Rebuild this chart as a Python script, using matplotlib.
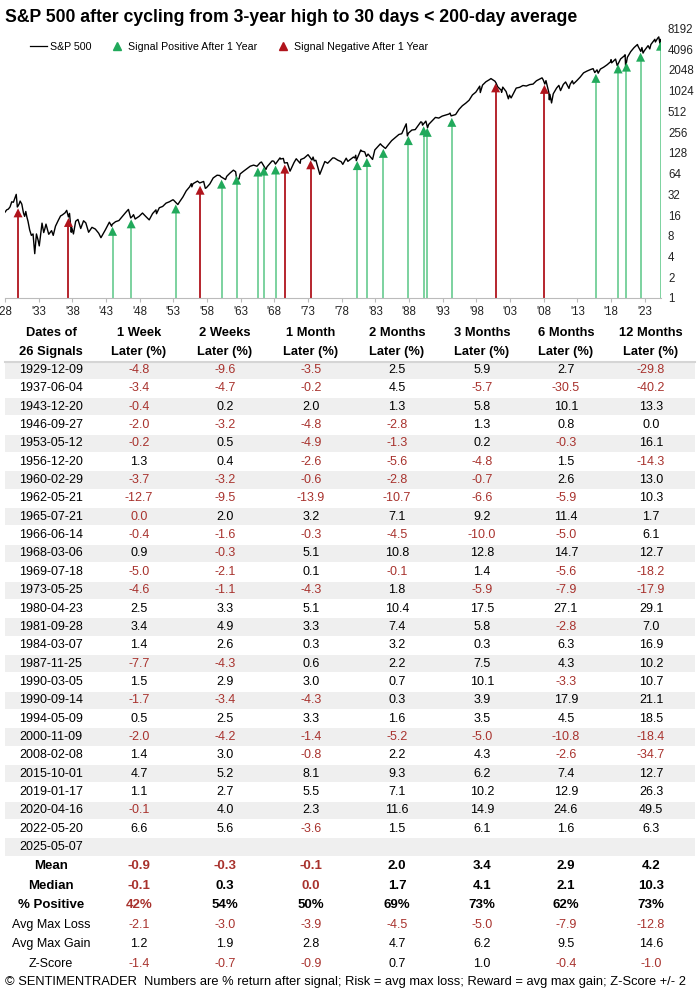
import numpy as np
import pandas as pd
import matplotlib
matplotlib.use("Agg")
import matplotlib.pyplot as plt
import matplotlib.dates as mdates
from matplotlib.lines import Line2D
from matplotlib.patches import Rectangle

plt.rcParams['font.family'] = ['Liberation Sans', 'DejaVu Sans']

# S&P 500 levels (approx.)
spx_dates = [
    "1928-01", "1928-04", "1928-07", "1928-10", "1929-01", "1929-04", "1929-07", "1929-09", "1929-11", "1929-12",
    "1930-02", "1930-04", "1930-07", "1930-10", "1930-12", "1931-02", "1931-04", "1931-06", "1931-09", "1931-12",
    "1932-03", "1932-06", "1932-09", "1932-12", "1933-02", "1933-07", "1933-10", "1933-12", "1934-02", "1934-07",
    "1934-12", "1935-03", "1935-07", "1935-12", "1936-04", "1936-07", "1936-12", "1937-03", "1937-06", "1937-08",
    "1937-11", "1937-12", "1938-03", "1938-07", "1938-11", "1939-04", "1939-09", "1939-12", "1940-01", "1940-06",
    "1940-12", "1941-06", "1941-12", "1942-04", "1942-12", "1943-07", "1943-11", "1943-12", "1944-06", "1944-12",
    "1945-06", "1945-12", "1946-05", "1946-09", "1946-12", "1947-02", "1947-05", "1947-12", "1948-06", "1948-12",
    "1949-06", "1949-12", "1950-06", "1950-07", "1950-12", "1951-06", "1951-12", "1952-06", "1952-12", "1953-01",
    "1953-09", "1953-12", "1954-06", "1954-12", "1955-06", "1955-09", "1955-10", "1955-12", "1956-08", "1956-12",
    "1957-07", "1957-10", "1957-12", "1958-06", "1958-12", "1959-07", "1959-12", "1960-01", "1960-10", "1960-12",
    "1961-06", "1961-12", "1962-04", "1962-06", "1962-10", "1962-12", "1963-06", "1963-12", "1964-06", "1964-12",
    "1965-06", "1965-12", "1966-02", "1966-10", "1966-12", "1967-09", "1967-12", "1968-03", "1968-11", "1968-12",
    "1969-05", "1969-07", "1969-12", "1970-05", "1970-12", "1971-04", "1971-11", "1971-12", "1972-06", "1972-12",
    "1973-01", "1973-08", "1973-10", "1973-12", "1974-03", "1974-10", "1974-12", "1975-07", "1975-12", "1976-09",
    "1976-12", "1977-06", "1977-12", "1978-03", "1978-09", "1978-12", "1979-10", "1979-12", "1980-02", "1980-03",
    "1980-11", "1980-12", "1981-06", "1981-09", "1981-12", "1982-08", "1982-12", "1983-10", "1983-12", "1984-07",
    "1984-12", "1985-06", "1985-12", "1986-07", "1986-12", "1987-08", "1987-10", "1987-12", "1988-06", "1988-12",
    "1989-10", "1989-12", "1990-01", "1990-07", "1990-10", "1990-12", "1991-06", "1991-12", "1992-06", "1992-12",
    "1993-06", "1993-12", "1994-02", "1994-04", "1994-12", "1995-06", "1995-12", "1996-06", "1996-12", "1997-06",
    "1997-12", "1998-07", "1998-08", "1998-12", "1999-06", "1999-12", "2000-03", "2000-10", "2000-12", "2001-03",
    "2001-09", "2001-10", "2001-12", "2002-06", "2002-10", "2002-12", "2003-03", "2003-12", "2004-06", "2004-12",
    "2005-06", "2005-12", "2006-06", "2006-12", "2007-10", "2007-12", "2008-03", "2008-05", "2008-10", "2008-11",
    "2008-12", "2009-03", "2009-06", "2009-12", "2010-04", "2010-07", "2010-12", "2011-04", "2011-10", "2011-12",
    "2012-04", "2012-06", "2012-12", "2013-06", "2013-12", "2014-06", "2014-12", "2015-05", "2015-08", "2015-12",
    "2016-02", "2016-06", "2016-12", "2017-06", "2017-12", "2018-01", "2018-02", "2018-09", "2018-12", "2019-06",
    "2019-12", "2020-02", "2020-03", "2020-06", "2020-12", "2021-06", "2021-12", "2022-01", "2022-06", "2022-08",
    "2022-10", "2022-12", "2023-07", "2023-10", "2023-12", "2024-07", "2024-08", "2024-12", "2025-02", "2025-04",
    "2025-05",
]
spx_values = [
    17.6, 19.0, 19.5, 21.0, 24.9, 24.5, 28.5, 31.9, 20.9, 21.5,
    23.0, 25.5, 23.0, 17.0, 15.3, 18.0, 15.0, 13.0, 9.7, 8.1,
    8.5, 4.4, 8.5, 6.9, 5.7, 12.2, 8.9, 10.1, 11.8, 8.4,
    9.5, 8.1, 11.0, 13.4, 15.5, 16.0, 17.2, 18.7, 15.0, 16.9,
    9.0, 10.5, 8.5, 13.0, 13.8, 10.2, 13.2, 12.5, 12.3, 9.0,
    10.6, 10.0, 8.7, 7.5, 9.8, 12.6, 11.0, 11.7, 12.8, 13.3,
    15.2, 17.4, 19.3, 14.5, 15.3, 16.2, 14.0, 15.3, 17.1, 15.2,
    13.6, 16.8, 19.0, 16.7, 20.4, 21.3, 23.8, 24.9, 26.6, 26.5,
    22.7, 24.8, 29.2, 35.9, 41.0, 45.6, 41.0, 45.5, 49.7, 46.7,
    49.1, 39.0, 39.9, 45.2, 55.2, 60.5, 59.9, 58.0, 52.3, 58.1,
    65.0, 71.6, 68.0, 52.3, 53.5, 63.1, 69.0, 75.0, 81.7, 84.8,
    81.6, 92.4, 94.0, 73.2, 80.3, 97.6, 96.5, 87.7, 108.0, 103.9,
    106.0, 91.0, 92.0, 69.3, 92.2, 104.8, 90.0, 102.1, 107.0, 118.1,
    120.2, 100.5, 111.0, 97.6, 99.7, 62.3, 68.6, 95.6, 90.2, 107.8,
    107.5, 100.0, 95.1, 86.9, 106.9, 96.1, 111.0, 107.9, 118.0, 98.2,
    140.5, 135.8, 132.0, 112.8, 122.6, 102.4, 140.6, 172.7, 164.9, 147.8,
    167.2, 191.9, 211.3, 236.0, 242.2, 336.8, 224.8, 247.1, 273.5, 277.7,
    359.8, 353.4, 322.0, 368.9, 295.5, 330.2, 371.0, 417.1, 408.0, 435.7,
    451.0, 466.4, 482.0, 438.9, 459.3, 544.8, 615.9, 670.6, 740.7, 885.0,
    970.4, 1186.0, 957.0, 1229.0, 1372.0, 1469.0, 1527.0, 1400.0, 1320.0, 1160.0,
    1040.0, 965.0, 1148.0, 990.0, 776.8, 879.8, 800.0, 1111.9, 1140.0, 1211.9,
    1191.0, 1248.3, 1270.0, 1418.3, 1565.0, 1468.4, 1273.0, 1426.0, 968.0, 752.0,
    903.3, 676.5, 919.0, 1115.1, 1217.0, 1022.0, 1257.6, 1363.0, 1099.0, 1257.6,
    1419.0, 1278.0, 1426.2, 1606.0, 1848.4, 1960.0, 2058.9, 2130.0, 1867.0, 2043.9,
    1829.0, 2098.0, 2238.8, 2423.0, 2673.6, 2872.9, 2581.0, 2930.8, 2351.1, 2941.8,
    3230.8, 3386.2, 2237.4, 3100.0, 3756.1, 4297.5, 4766.2, 4515.0, 3785.0, 4305.0,
    3577.0, 3839.5, 4588.0, 4117.0, 4769.8, 5667.0, 5186.0, 5881.6, 6144.0, 4982.8,
    5631.0,
]

signal_dates = [
    "1929-12-09", "1937-06-04", "1943-12-20", "1946-09-27", "1953-05-12", "1956-12-20", "1960-02-29",
    "1962-05-21", "1965-07-21", "1966-06-14", "1968-03-06", "1969-07-18", "1973-05-25", "1980-04-23",
    "1981-09-28", "1984-03-07", "1987-11-25", "1990-03-05", "1990-09-14", "1994-05-09", "2000-11-09",
    "2008-02-08", "2015-10-01", "2019-01-17", "2020-04-16", "2022-05-20", "2025-05-07",
]
signal_prices = [
    21.5, 15.6, 11.6, 14.9, 24.5, 45.8, 56.1, 64.0, 84.0, 86.7, 90.0, 92.7, 107.1, 104.3,
    115.9, 157.0, 240.3, 333.7, 316.8, 442.3, 1400.0, 1331.0, 1923.0, 2635.0, 2799.0, 3901.0, 5631.0,
]

columns = ["Dates of\n26 Signals", "1 Week\nLater (%)", "2 Weeks\nLater (%)", "1 Month\nLater (%)",
           "2 Months\nLater (%)", "3 Months\nLater (%)", "6 Months\nLater (%)", "12 Months\nLater (%)"]

wk1 = [-4.8, -3.4, -0.4, -2.0, -0.2, 1.3, -3.7, -12.7, -0.0, -0.4, 0.9, -5.0, -4.6,
       2.5, 3.4, 1.4, -7.7, 1.5, -1.7, 0.5, -2.0, 1.4, 4.7, 1.1, -0.1, 6.6]
wk2 = [-9.6, -4.7, 0.2, -3.2, 0.5, 0.4, -3.2, -9.5, 2.0, -1.6, -0.3, -2.1, -1.1,
       3.3, 4.9, 2.6, -4.3, 2.9, -3.4, 2.5, -4.2, 3.0, 5.2, 2.7, 4.0, 5.6]
mo1 = [-3.5, -0.2, 2.0, -4.8, -4.9, -2.6, -0.6, -13.9, 3.2, -0.3, 5.1, 0.1, -4.3,
       5.1, 3.3, 0.3, 0.6, 3.0, -4.3, 3.3, -1.4, -0.8, 8.1, 5.5, 2.3, -3.6]
mo2 = [2.5, 4.5, 1.3, -2.8, -1.3, -5.6, -2.8, -10.7, 7.1, -4.5, 10.8, -0.1, 1.8,
       10.4, 7.4, 3.2, 2.2, 0.7, 0.3, 1.6, -5.2, 2.2, 9.3, 7.1, 11.6, 1.5]
mo3 = [5.9, -5.7, 5.8, 1.3, 0.2, -4.8, -0.7, -6.6, 9.2, -10.0, 12.8, 1.4, -5.9,
       17.5, 5.8, 0.3, 7.5, 10.1, 3.9, 3.5, -5.0, 4.3, 6.2, 10.2, 14.9, 6.1]
mo6 = [2.7, -30.5, 10.1, 0.8, -0.3, 1.5, 2.6, -5.9, 11.4, -5.0, 14.7, -5.6, -7.9,
       27.1, -2.8, 6.3, 4.3, -3.3, 17.9, 4.5, -10.8, -2.6, 7.4, 12.9, 24.6, 1.6]
mo12 = [-29.8, -40.2, 13.3, 0.0, 16.1, -14.3, 13.0, 10.3, 1.7, 6.1, 12.7, -18.2, -17.9,
        29.1, 7.0, 16.9, 10.2, 10.7, 21.1, 18.5, -18.4, -34.7, 12.7, 26.3, 49.5, 6.3]

mean_row = [-0.9, -0.3, -0.1, 2.0, 3.4, 2.9, 4.2]
median_row = [-0.1, 0.3, -0.0, 1.7, 4.1, 2.1, 10.3]
pct_pos = [42, 54, 50, 69, 73, 62, 73]
max_loss = [-2.1, -3.0, -3.9, -4.5, -5.0, -7.9, -12.8]
max_gain = [1.2, 1.9, 2.8, 4.7, 6.2, 9.5, 14.6]
zscore = [-1.4, -0.7, -0.9, 0.7, 1.0, -0.4, -1.0]

RED = '#a8322d'
GREEN = '#21a95b'
GREEN_LINE = '#72cf97'
RED_MK = '#b0141c'
W, H = 697, 994


def fmt(v):
    s = f"{abs(v):.1f}"
    if v < 0 and s != "0.0":
        s = "-" + s
    return s


def col(v):
    return RED if np.signbit(v) else 'black'


fig = plt.figure(figsize=(W / 100, H / 100), dpi=100)

fig.text(5 / W, 1 - 17 / H, "S&P 500 after cycling from 3-year high to 30 days < 200-day average",
         fontsize=12.7, fontweight='bold', va='center', ha='left')

# ---- chart ----
ax = fig.add_axes([5 / W, (H - 298) / H, 656 / W, 278 / H])
x = pd.to_datetime(spx_dates)
ax.plot(x, spx_values, color='black', lw=1.0, zorder=2)

sx = pd.to_datetime(signal_dates)
sy = np.array(signal_prices) * 0.8
pos = [True if i >= len(mo12) else mo12[i] >= 0 for i in range(len(signal_dates))]
line_c = [GREEN_LINE if p else RED_MK for p in pos]
mark_c = [GREEN if p else RED_MK for p in pos]
ax.vlines(sx, 1, sy, colors=line_c, lw=1.3, zorder=1)
ax.scatter(sx, sy, marker='^', s=42, c=mark_c, zorder=3, linewidths=0)

ax.set_yscale('log', base=2)
ax.set_ylim(1, 2 ** 13.4)
ax.set_xlim(pd.Timestamp("1928-01-01"), pd.Timestamp("2025-06-01"))
yt = 2 ** np.arange(14)
ax.set_yticks(yt)
ax.set_yticklabels([str(int(v)) for v in yt])
ax.yaxis.set_minor_locator(matplotlib.ticker.NullLocator())
ax.yaxis.tick_right()
ax.tick_params(axis='y', length=0, pad=5, labelsize=8.3, labelcolor='#222222')
ax.set_xticks(pd.to_datetime([f"{y}-01-01" for y in range(1928, 2024, 5)]))
ax.xaxis.set_major_formatter(mdates.DateFormatter("'%y"))
ax.tick_params(axis='x', length=3, color='#bbbbbb', labelsize=8.3, labelcolor='#222222', pad=3)
for s in ['top', 'left', 'right']:
    ax.spines[s].set_visible(False)
ax.spines['bottom'].set_color('#bbbbbb')

handles = [Line2D([], [], color='black', lw=0.9),
           Line2D([], [], marker='^', ls='none', color=GREEN, markersize=6),
           Line2D([], [], marker='^', ls='none', color=RED_MK, markersize=6)]
fig.legend(handles, ["S&P 500", "Signal Positive After 1 Year", "Signal Negative After 1 Year"],
           loc='center left', bbox_to_anchor=(30 / W, 1 - 47 / H), ncol=3, frameon=False,
           borderpad=0, borderaxespad=0, fontsize=7.7, handlelength=1.6, handletextpad=0.25,
           columnspacing=1.6)

# ---- table ----
tx = fig.add_axes([0, 0, 1, 1], zorder=-1)
tx.set_xlim(0, W)
tx.set_ylim(H, 0)
tx.axis('off')

col_x = [51, 139, 225, 311, 397, 482, 566, 651]
for cx, name in zip(col_x, columns):
    l1, l2 = name.split("\n")
    tx.text(cx, 333, l1, ha='center', va='center', fontsize=9.3, fontweight='bold')
    tx.text(cx, 352, l2, ha='center', va='center', fontsize=9.3, fontweight='bold')
tx.plot([5, 695], [362, 362], color='#d5d5d5', lw=1.5)

y0, dy = 370, 18.35
data_cols = [wk1, wk2, mo1, mo2, mo3, mo6, mo12]
for i, d in enumerate(signal_dates):
    y = y0 + i * dy
    if i % 2 == 0:
        tx.add_patch(Rectangle((5, y - dy / 2 + 0.5), 690, dy - 1, color='#efefef', lw=0))
    tx.text(col_x[0], y, d, ha='center', va='center', fontsize=9)
    if i < len(wk1):
        for cx, c in zip(col_x[1:], data_cols):
            v = c[i]
            tx.text(cx, y, fmt(v), ha='center', va='center', fontsize=9, color=col(v))

sy0, sdy = 866, 19.6
summary = [("Mean", mean_row, True), ("Median", median_row, True), ("% Positive", pct_pos, True),
           ("Avg Max Loss", max_loss, False), ("Avg Max Gain", max_gain, False), ("Z-Score", zscore, False)]
for k, (lab, vals, bold) in enumerate(summary):
    y = sy0 + k * sdy
    fw = 'bold' if bold else 'normal'
    fs = 9.5 if bold else 9
    tx.text(col_x[0], y, lab, ha='center', va='center', fontsize=fs, fontweight=fw)
    for cx, v in zip(col_x[1:], vals):
        if lab == "% Positive":
            tx.text(cx, y, f"{v}%", ha='center', va='center', fontsize=fs, fontweight=fw,
                    color=RED if v < 50 else 'black')
        else:
            tx.text(cx, y, fmt(v), ha='center', va='center', fontsize=fs, fontweight=fw, color=col(v))

tx.text(5, 982, "\u00a9 SENTIMENTRADER  Numbers are % return after signal; Risk = avg max loss; "
        "Reward = avg max gain; Z-Score +/- 2", ha='left', va='center', fontsize=9.25)

fig.savefig("out.png", dpi=100)
